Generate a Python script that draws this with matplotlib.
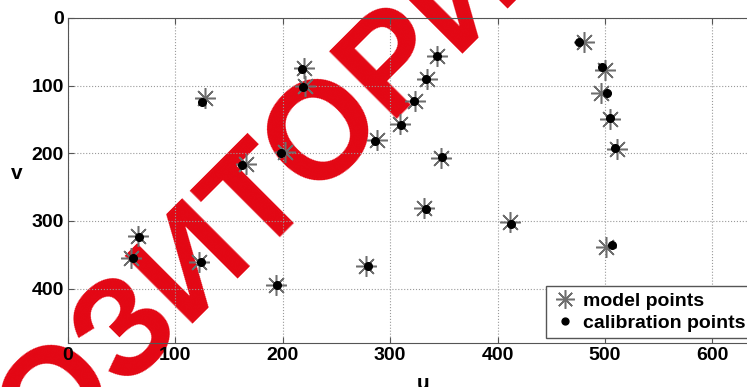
import matplotlib

matplotlib.use("Agg")

import matplotlib.pyplot as plt

# model points (u, v)
model_u = [128, 220, 221, 166, 202, 288, 344, 334, 323, 309, 347, 481,
           500, 496, 505, 511, 65, 59, 122, 194, 278, 332, 412, 501]
model_v = [119, 74, 100, 216, 198, 180, 56, 90, 123, 157, 207, 36,
           77, 111, 149, 194, 322, 355, 361, 394, 366, 281, 302, 338]

# calibration points (u, v)
calib_u = [125, 218, 219, 162, 198, 286, 344, 333, 322, 310, 348, 476,
           497, 502, 505, 509, 66, 61, 124, 195, 279, 333, 413, 507]
calib_v = [125, 75, 102, 218, 200, 182, 57, 90, 123, 159, 206, 35,
           73, 111, 148, 192, 323, 355, 360, 394, 366, 282, 305, 336]

x_ticks = [0, 100, 200, 300, 400, 500, 600]
y_ticks = [0, 100, 200, 300, 400]

plt.rcParams["font.family"] = ["Liberation Sans", "DejaVu Sans"]

fig = plt.figure(figsize=(7.47, 3.87), dpi=100)
ax = fig.add_axes([0.091, 0.114, 0.92, 0.84])
ax.patch.set_alpha(0)

ax.plot(model_u, model_v, linestyle="none", marker=(8, 2, 0), markersize=15,
        markeredgewidth=1.1, color="#6e6e6e", label="model points")
ax.plot(calib_u, calib_v, linestyle="none", marker="o", markersize=5.5,
        color="black", label="calibration points")

ax.set_xlim(0, 640)
ax.set_ylim(480, 0)
ax.set_xticks(x_ticks)
ax.set_yticks(y_ticks)
ax.grid(True, linestyle=":", color="#9a9a9a", linewidth=0.8)
ax.tick_params(labelsize=14, direction="in", length=4, color="#555555",
               top=True, pad=3)
for lab in ax.get_xticklabels() + ax.get_yticklabels():
    lab.set_fontweight("bold")
for s in ax.spines.values():
    s.set_color("#555555")
ax.spines["right"].set_visible(False)

ax.set_xlabel("u", fontsize=15, fontweight="bold", va="top")
ax.xaxis.set_label_coords(0.517, -0.095)
ax.set_ylabel("v", fontsize=15, fontweight="bold", rotation=0,
              va="center", ha="center")
ax.yaxis.set_label_coords(-0.075, 0.52)

leg = ax.legend(loc="lower right", bbox_to_anchor=(1.0, 0.003),
                prop={"weight": "bold", "size": 14}, fancybox=False,
                edgecolor="#555555", framealpha=1, handletextpad=0.2,
                borderpad=0.3, labelspacing=0.25, handlelength=1.4,
                borderaxespad=0.2, markerscale=0.9)

fig.text(0.261, 0.323, "РЕПОЗИТОРИЙ", fontsize=100, fontweight="bold",
         color="#e30613", rotation=45, ha="center", va="center",
         rotation_mode="anchor", zorder=-1)

fig.savefig("out.png", dpi=100)
